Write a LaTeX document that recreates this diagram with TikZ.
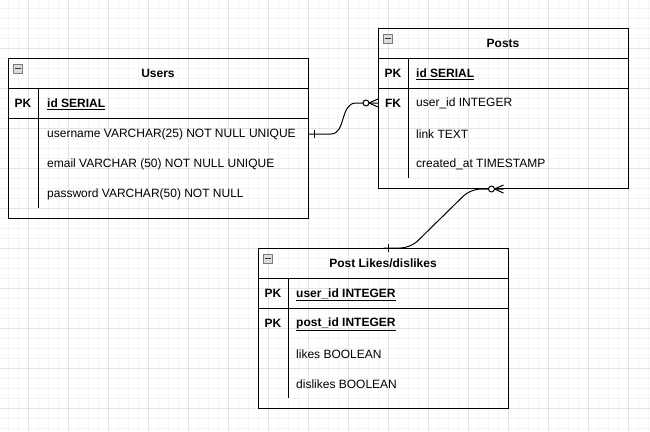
\documentclass[tikz,border=0pt]{standalone}
\usepackage{fontspec}
\setmainfont{Liberation Sans}
\usepackage{xcolor}
\usepackage{tikz}
\usetikzlibrary{calc}
\definecolor{bg}{HTML}{FFFFFF}
\definecolor{ink}{HTML}{000000}
\definecolor{gridmin}{HTML}{F4F4F4}
\definecolor{gridmaj}{HTML}{E3E3E3}
\definecolor{iconfill}{HTML}{DCDCDC}
\definecolor{iconline}{HTML}{7A7A7A}
\definecolor{iconmark}{HTML}{333333}
\tikzset{
  tbl/.style={draw=ink, line width=1pt, anchor=north west, inner sep=0pt, minimum width=250pt, minimum height=160pt},
  rule/.style={draw=ink, line width=1pt},
  conn/.style={draw=ink, line width=1pt, line join=round},
  hdr/.style={text=ink, font=\fontsize{12}{14}\selectfont\bfseries},
  keylab/.style={hdr, inner sep=0pt},
  fld/.style={text=ink, anchor=west, inner sep=0pt, font=\fontsize{12}{14}\selectfont},
  pkfld/.style={fld, yshift=-1.5pt, font=\fontsize{12}{14}\selectfont\bfseries},
  gmin/.style={draw=gridmin, line width=1pt},
  gmaj/.style={draw=gridmaj, line width=1pt},
  icon/.style={draw=iconline, fill=iconfill, line width=0.8pt, anchor=north west, inner sep=0pt, minimum width=9pt, minimum height=9pt},
  minus/.style={draw=iconmark, line width=1pt},
  onebar/.pic={\draw[conn] (5,-4) -- (5,4);},
  manyopt/.pic={
    \draw[conn] (-9,0) -- (0,-4) (-9,0) -- (0,4);
    \draw[conn, fill=bg] (-12,0) circle (3pt);
  },
}

\begin{document}
\begin{tikzpicture}[x=1pt,y=-1pt]
  \useasboundingbox (0,0) rectangle (650,431);
  \fill[bg] (0,0) rectangle (650,431);

  % grid
  \foreach \x in {8,18,...,648} \draw[gmin] (\x,0) -- (\x,431);
  \foreach \y in {8,18,...,428} \draw[gmin] (0,\y) -- (650,\y);
  \foreach \x in {28,68,...,628} \draw[gmaj] (\x,0) -- (\x,431);
  \foreach \y in {48,88,...,408} \draw[gmaj] (0,\y) -- (650,\y);

  % Users
  \node[tbl, minimum width=300pt] (users) at (8,58) {};
  \node[icon] (users-ic) at (13,64) {};
  \draw[minus] ($(users-ic.west)+(2,0)$) -- ($(users-ic.east)+(-2,0)$);
  \node[hdr] (users-title) at (158,73) {Users};
  \draw[rule] (8,88) -- (308,88);
  \draw[rule] (8,118) -- (308,118);
  \draw[rule] (38,88) -- (38,208);
  \node[keylab] (users-pk) at (23,103) {PK};
  \node[pkfld] (users-id) at (47,103) {\underline{id SERIAL}};
  \node[fld] (users-username) at (47,134) {username VARCHAR(25) NOT NULL UNIQUE};
  \node[fld] (users-email) at (47,164) {email VARCHAR (50) NOT NULL UNIQUE};
  \node[fld] (users-password) at (47,194) {password VARCHAR(50) NOT NULL};

  % Posts
  \node[tbl] (posts) at (378,28) {};
  \node[icon] (posts-ic) at (383,34) {};
  \draw[minus] ($(posts-ic.west)+(2,0)$) -- ($(posts-ic.east)+(-2,0)$);
  \node[hdr] (posts-title) at (503,43) {Posts};
  \draw[rule] (378,58) -- (628,58);
  \draw[rule] (378,88) -- (628,88);
  \draw[rule] (408,58) -- (408,178);
  \node[keylab] (posts-pk) at (393,73) {PK};
  \node[keylab] (posts-fk) at (393,103) {FK};
  \node[pkfld] (posts-id) at (416,73) {\underline{id SERIAL}};
  \node[fld] (posts-userid) at (416,103) {user\_id INTEGER};
  \node[fld] (posts-link) at (416,134) {link TEXT};
  \node[fld] (posts-created) at (416,164) {created\_at TIMESTAMP};

  % Post Likes/dislikes
  \node[tbl] (likes) at (258,248) {};
  \node[icon] (likes-ic) at (263,254) {};
  \draw[minus] ($(likes-ic.west)+(2,0)$) -- ($(likes-ic.east)+(-2,0)$);
  \node[hdr] (likes-title) at (383,263) {Post Likes/dislikes};
  \draw[rule] (258,278) -- (508,278);
  \draw[rule] (258,308) -- (508,308);
  \draw[rule] (288,278) -- (288,398);
  \node[keylab] (likes-pk1) at (273,293) {PK};
  \node[keylab] (likes-pk2) at (273,323) {PK};
  \node[pkfld] (likes-userid) at (296,293) {\underline{user\_id INTEGER}};
  \node[pkfld] (likes-postid) at (296,323) {\underline{post\_id INTEGER}};
  \node[fld] (likes-likes) at (296,354) {likes BOOLEAN};
  \node[fld] (likes-dislikes) at (296,384) {dislikes BOOLEAN};

  % relations
  \draw[conn] (users.east |- users-username) -- ++(22,0)
    .. controls +(15,0) and +(-16,0) .. ($(posts.west |- posts-userid)+(-22,0)$)
    -- (posts.west |- posts-userid);
  \pic at (users.east |- users-username) {onebar};
  \pic at (posts.west |- posts-userid) {manyopt};

  \draw[conn, rounded corners=10pt] (likes.north) -- ($(likes.north)+(27,0)$)
    -- ($(posts.south)+(-33,0)$) -- (posts.south);
  \pic at (likes.north) {onebar};
  \pic at (posts.south) {manyopt};
\end{tikzpicture}
\end{document}
